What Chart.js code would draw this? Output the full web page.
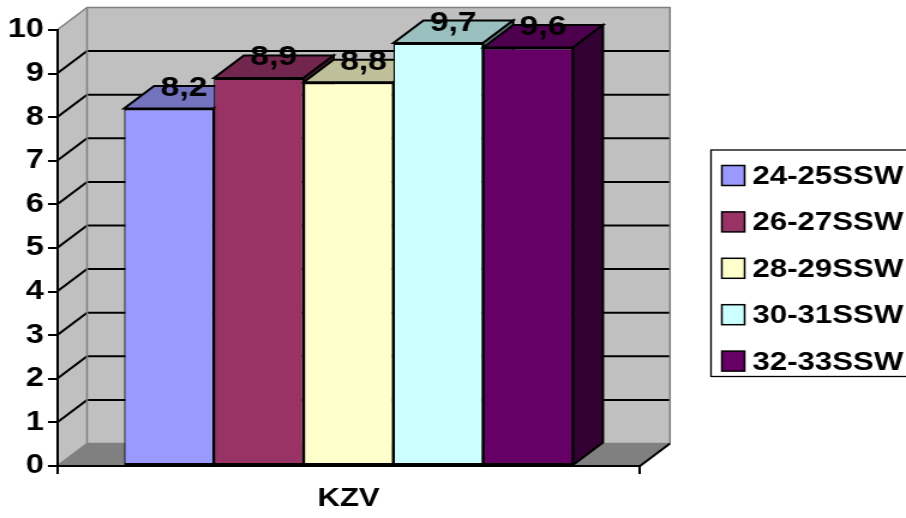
<!DOCTYPE html>
<html>
<head>
<meta charset="utf-8">
<title>KZV</title>
<script src="https://cdn.jsdelivr.net/npm/chart.js@4.4.1/dist/chart.umd.min.js"></script>
<style>
  html, body { margin: 0; padding: 0; background: #fff; overflow: hidden; }
  #c { display: block; }
</style>
</head>
<body>
<!-- the drawing surface is rendered narrower and widened by CSS, like the stretched office chart -->
<canvas id="c" width="755" height="518" style="width:906px;height:518px"></canvas>
<script>
// ---- data ----
const categories = ['KZV'];
const seriesNames = ['24-25SSW', '26-27SSW', '28-29SSW', '30-31SSW', '32-33SSW'];
const seriesValues = [8.2, 8.9, 8.8, 9.7, 9.6];
const yTickValues = [0, 1, 2, 3, 4, 5, 6, 7, 8, 9, 10];

// ---- styles ----
const seriesColors = ['#9999FF', '#993366', '#FFFFCC', '#CCFFFF', '#660066'];
const FONT = '"Liberation Sans", Arial, Helvetica, sans-serif';
const DX = 25, DY = -22.5;          // depth of the 3D box (in canvas units)
const WALL = '#C0C0C0', FLOOR = '#808080', EDGE = '#808080';

function shade(hex, f) {
  const n = parseInt(hex.slice(1), 16);
  const r = Math.round(((n >> 16) & 255) * f);
  const g = Math.round(((n >> 8) & 255) * f);
  const b = Math.round((n & 255) * f);
  return `rgb(${r},${g},${b})`;
}

function poly(ctx, pts, fill, stroke, lw) {
  ctx.beginPath();
  ctx.moveTo(pts[0][0], pts[0][1]);
  for (let i = 1; i < pts.length; i++) ctx.lineTo(pts[i][0], pts[i][1]);
  ctx.closePath();
  if (fill) { ctx.fillStyle = fill; ctx.fill(); }
  if (stroke) { ctx.strokeStyle = stroke; ctx.lineWidth = lw; ctx.lineJoin = 'miter'; ctx.stroke(); }
}

function line(ctx, pts, color, lw) {
  ctx.beginPath();
  ctx.moveTo(pts[0][0], pts[0][1]);
  for (let i = 1; i < pts.length; i++) ctx.lineTo(pts[i][0], pts[i][1]);
  ctx.strokeStyle = color; ctx.lineWidth = lw; ctx.stroke();
}

// walls, floor, gridlines, 3D bars, value labels and the framed legend
const box3d = {
  id: 'box3d',
  beforeDraw(chart) {
    const ctx = chart.ctx;
    const { left, right, top, bottom } = chart.chartArea;
    const ys = chart.scales.y;
    ctx.save();
    ctx.fillStyle = '#fff';
    ctx.fillRect(0, 0, chart.width, chart.height);
    // back wall
    poly(ctx, [[left + DX, top + DY], [right + DX, top + DY], [right + DX, bottom + DY], [left + DX, bottom + DY]], WALL);
    // side wall
    poly(ctx, [[left, top], [left + DX, top + DY], [left + DX, bottom + DY], [left, bottom]], WALL);
    // floor
    poly(ctx, [[left, bottom], [left + DX, bottom + DY], [right + DX, bottom + DY], [right, bottom]], FLOOR);
    // gridlines
    const vmax = yTickValues[yTickValues.length - 1];
    yTickValues.forEach(v => {
      if (v === 0 || v === vmax) return;
      const py = ys.getPixelForValue(v);
      line(ctx, [[left, py], [left + DX, py + DY], [right + DX, py + DY]], '#000', 2);
    });
    // wall edges
    line(ctx, [[left, top], [left + DX, top + DY], [right + DX, top + DY], [right + DX, bottom + DY]], EDGE, 1.5);
    line(ctx, [[left + DX, top + DY], [left + DX, bottom + DY], [right + DX, bottom + DY]], EDGE, 1.5);
    line(ctx, [[left, bottom], [left + DX, bottom + DY]], EDGE, 1.5);
    line(ctx, [[right, bottom], [right + DX, bottom + DY]], '#000', 2);
    ctx.restore();
  },
  beforeDatasetsDraw(chart) {
    const ctx = chart.ctx;
    ctx.save();
    const tops = [];
    // paint left to right so each bar hides the right side of its neighbour
    for (let i = 0; i < chart.data.datasets.length; i++) {
      const meta = chart.getDatasetMeta(i);
      const el = meta.data[0];
      el.draw(ctx, chart.chartArea);
      const { x, y, base, width } = el.getProps(['x', 'y', 'base', 'width'], true);
      const L = x - width / 2, R = x + width / 2;
      const c = seriesColors[i];
      poly(ctx, [[L, y], [R, y], [R + DX, y + DY], [L + DX, y + DY]], shade(c, 0.75), '#000', 2);
      poly(ctx, [[R, y], [R + DX, y + DY], [R + DX, base + DY], [R, base]], shade(c, 0.5), '#000', 2);
      tops.push({ x: x + DX / 2, y: y + DY, v: chart.data.datasets[i].data[0] });
    }
    // value labels
    ctx.fillStyle = '#000';
    ctx.font = `bold 28px ${FONT}`;
    ctx.textAlign = 'center';
    ctx.textBaseline = 'alphabetic';
    tops.forEach(t => {
      ctx.fillText(t.v.toFixed(1).replace('.', ','), t.x, t.y + 10);
    });
    ctx.restore();
    return false;
  },
  afterDraw(chart) {
    const ctx = chart.ctx;
    ctx.save();
    const lgLeft = 592.5, lgTop = 150, lgBottom = 376.5;
    ctx.strokeStyle = '#000';
    ctx.lineWidth = 1.3;
    ctx.strokeRect(lgLeft, lgTop, 220, lgBottom - lgTop);
    ctx.font = `bold 26px ${FONT}`;
    ctx.textAlign = 'left';
    ctx.textBaseline = 'alphabetic';
    seriesNames.forEach((name, i) => {
      const cy = 175.5 + i * 46.4;
      ctx.fillStyle = seriesColors[i];
      ctx.fillRect(601.5, cy - 10, 19, 20);
      ctx.strokeStyle = '#000';
      ctx.lineWidth = 1.5;
      ctx.strokeRect(601.5, cy - 10, 19, 20);
      ctx.fillStyle = '#000';
      ctx.fillText(name, 627, cy + 8.5);
    });
    ctx.restore();
  }
};

const datasets = seriesNames.map((name, i) => ({
  label: name,
  data: [seriesValues[i]],
  backgroundColor: seriesColors[i],
  borderColor: '#000',
  borderWidth: { top: 2, bottom: 2, left: 1.25, right: 1.25 },
  borderSkipped: false,
  categoryPercentage: 0.77,
  barPercentage: 1
}));

new Chart(document.getElementById('c'), {
  type: 'bar',
  data: { labels: categories, datasets },
  options: {
    responsive: false,
    animation: false,
    devicePixelRatio: 1,
    layout: { padding: { top: 30, right: 221.7, bottom: 0, left: 0 } },
    plugins: {
      legend: { display: false },
      tooltip: { enabled: false }
    },
    scales: {
      x: {
        grid: { drawOnChartArea: false, drawTicks: true, tickLength: 8, tickColor: '#000', tickWidth: 2, lineWidth: 2, color: '#000' },
        border: { display: true, color: '#000', width: 2 },
        ticks: { color: '#000', font: { family: FONT, size: 26, weight: 'bold' }, padding: 9 },
        afterFit: a => { a.height = 52; }
      },
      y: {
        min: yTickValues[0],
        max: yTickValues[yTickValues.length - 1],
        afterBuildTicks: a => { a.ticks = yTickValues.map(v => ({ value: v })); },
        grid: { drawOnChartArea: false, drawTicks: true, tickLength: 7.5, tickColor: '#000', tickWidth: 2, lineWidth: 2, color: '#000' },
        border: { display: true, color: '#000', width: 2 },
        ticks: { color: '#000', font: { family: FONT, size: 27, weight: 'bold' }, padding: 3.5 },
        afterFit: a => { a.width = 47.5; }
      }
    }
  },
  plugins: [box3d]
});
</script>
</body>
</html>
